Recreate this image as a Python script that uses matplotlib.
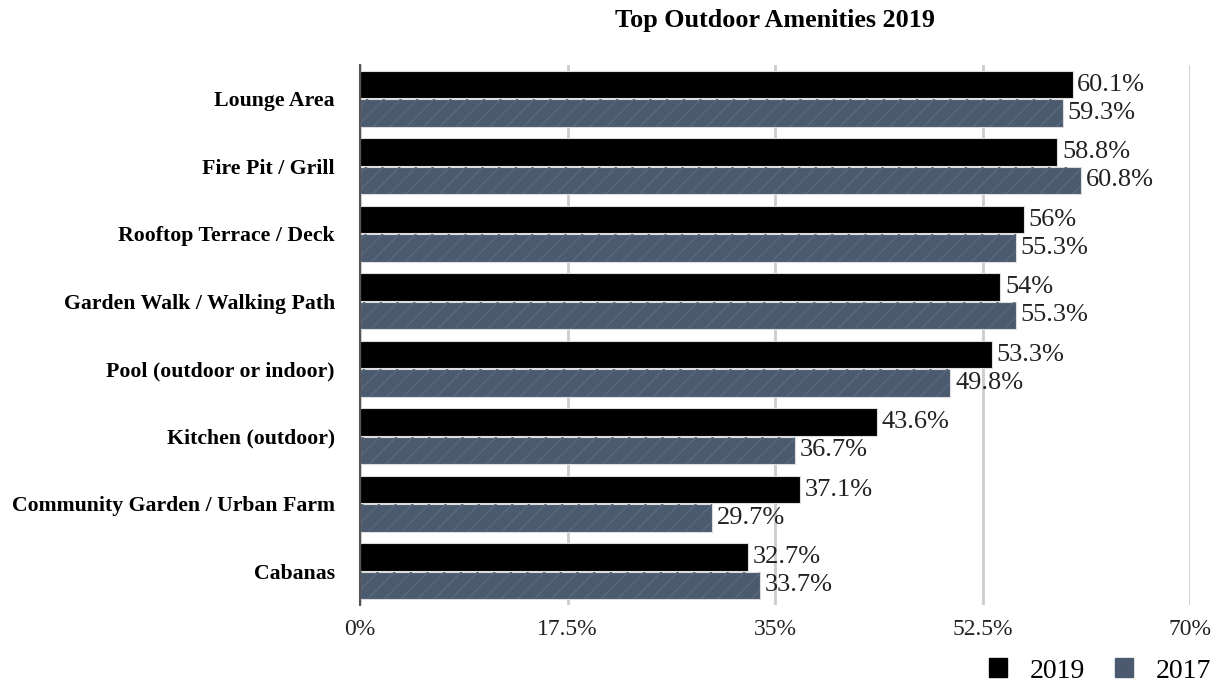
import matplotlib
matplotlib.use("Agg")
import matplotlib.pyplot as plt
import numpy as np
from matplotlib.patches import Patch

categories = ["Lounge Area", "Fire Pit / Grill", "Rooftop Terrace / Deck",
              "Garden Walk / Walking Path", "Pool (outdoor or indoor)",
              "Kitchen (outdoor)", "Community Garden / Urban Farm", "Cabanas"]
values_2019 = [60.1, 58.8, 56, 54, 53.3, 43.6, 37.1, 32.7]
values_2017 = [59.3, 60.8, 55.3, 55.3, 49.8, 36.7, 29.7, 33.7]
tick_values = [0, 17.5, 35, 52.5, 70]
tick_labels = ["0%", "17.5%", "35%", "52.5%", "70%"]

plt.rcParams['font.family'] = ['Liberation Serif', 'DejaVu Serif']
plt.rcParams['hatch.linewidth'] = 1.2

c2019 = "#000000"
c2017 = "#4b5a6e"
hatch_col = "#58677b"

fig = plt.figure(figsize=(12.22, 6.83), dpi=100)
ax = fig.add_axes([360/1222, 1-605/683, (1190-360)/1222, (605-65)/683])

y = np.arange(len(categories))
h = 0.41
off = 0.21
ax.barh(y - off, values_2019, height=h, color=c2019, edgecolor="#dddddd", linewidth=0.8, zorder=3)
ax.barh(y + off, values_2017, height=h, color=c2017, edgecolor="#dddddd", linewidth=0.8, zorder=3)
ax.barh(y + off, values_2017, height=h, fill=False, hatch="//", edgecolor=hatch_col, linewidth=0, zorder=4)

for yi, v in zip(y, values_2019):
    ax.text(v + 0.4, yi - off, f"{v:g}%", va="center", ha="left", fontsize=19, color="#222222", zorder=5)
for yi, v in zip(y, values_2017):
    ax.text(v + 0.4, yi + off, f"{v:g}%", va="center", ha="left", fontsize=19, color="#222222", zorder=5)

ax.set_xlim(0, 70)
ax.set_ylim(len(categories) - 0.5, -0.5)
ax.set_yticks(y)
ax.set_yticklabels(categories, fontsize=15.7, fontweight="bold")
ax.set_xticks(tick_values)
ax.set_xticklabels(tick_labels, fontsize=17, color="#222222")
ax.tick_params(axis="x", length=0, pad=10)
ax.tick_params(axis="y", length=0, pad=18)
ax.grid(axis="x", color="#cccccc", linewidth=2, zorder=0)
for s in ["top", "right", "bottom"]:
    ax.spines[s].set_visible(False)
ax.spines["left"].set_color("#555555")
ax.spines["left"].set_linewidth(1.5)
ax.spines["left"].set_zorder(6)

fig.text(775/1222, 1-20/683, "Top Outdoor Amenities 2019", ha="center", va="center",
         fontsize=18.8, fontweight="bold")

handles = [Patch(facecolor=c2019, edgecolor=c2019), Patch(facecolor=c2017, edgecolor=c2017)]
fig.legend(handles, ["2019", "2017"], loc="center right", bbox_to_anchor=(1.0, 1-671/683),
           borderaxespad=0, ncol=2, frameon=False, fontsize=20, handlelength=0.65, handleheight=0.65,
           handletextpad=0.8, columnspacing=1.1)

fig.savefig("out.png", dpi=100)
